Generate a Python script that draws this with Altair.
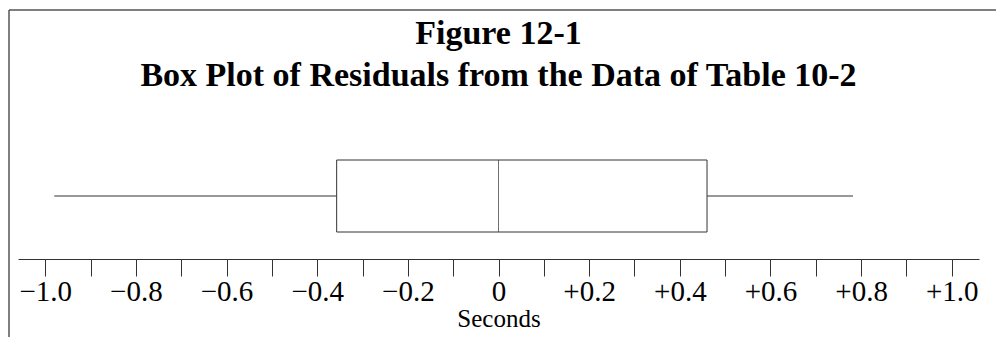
import altair as alt
import pandas as pd

# Box-plot summary (seconds)
stat_names = ["lo", "q1", "median", "q3", "hi"]
stat_values = [-0.98, -0.357, 0.0, 0.46, 0.782]

tick_values = [round(-1.0 + 0.1 * i, 1) for i in range(21)]
label_values = [-1.0, -0.8, -0.6, -0.4, -0.2, 0.0, 0.2, 0.4, 0.6, 0.8, 1.0]
label_texts = ["\u22121.0", "\u22120.8", "\u22120.6", "\u22120.4", "\u22120.2", "0",
               "+0.2", "+0.4", "+0.6", "+0.8", "+1.0"]

title_lines = ["Figure 12-1", "Box Plot of Residuals from the Data of Table 10-2"]
x_title = "Seconds"

row = {"g": "Residuals"}
row.update(dict(zip(stat_names, stat_values)))
df = pd.DataFrame([row])

expr = "''"
for v, t in zip(reversed(label_values), reversed(label_texts)):
    expr = f"round(datum.value*10)=={int(round(v*10))} ? '{t}' : ({expr})"

FONT = "Liberation Serif"
LINE = "#333333"

xscale = alt.Scale(domain=[-1.06, 1.06], nice=False, zero=False)
yband = alt.Y("g:N", axis=None, scale=alt.Scale(paddingInner=0, paddingOuter=0.375))

base = alt.Chart(df)

whisk_lo = base.mark_rule(color=LINE, strokeWidth=1).encode(
    x=alt.X("lo:Q", scale=xscale,
            axis=alt.Axis(values=tick_values, labelExpr=expr, title=x_title,
                          grid=False, domainColor=LINE, tickColor=LINE, tickSize=17,
                          domainWidth=1, tickWidth=1,
                          labelFont=FONT, labelFontSize=29, labelColor="black",
                          labelPadding=1, labelFlush=False, labelOverlap=False,
                          titleFont=FONT, titleFontSize=25, titleFontWeight="normal",
                          titleColor="black", titlePadding=0)),
    x2="q1:Q", y=yband)

whisk_hi = base.mark_rule(color=LINE, strokeWidth=1).encode(
    x=alt.X("q3:Q", scale=xscale), x2="hi:Q", y=yband)

box = base.mark_bar(fill="white", stroke=LINE, strokeWidth=1).encode(
    x=alt.X("q1:Q", scale=xscale), x2="q3:Q", y=yband)

med = base.mark_tick(color=LINE, thickness=1, size=72, orient="vertical").encode(
    x=alt.X("median:Q", scale=xscale), y=yband)

frame_df = pd.DataFrame({"a": [0]})
frame_left = alt.Chart(frame_df).mark_rule(color="#555555", strokeWidth=1.5).encode(
    x=alt.value(-9), y=alt.value(-123), y2=alt.value(210))
frame_top = alt.Chart(frame_df).mark_rule(color="#555555", strokeWidth=1.5).encode(
    x=alt.value(-9), x2=alt.value(990), y=alt.value(-123))

chart = alt.layer(frame_left, frame_top, whisk_lo, whisk_hi, box, med).properties(
    width=961, height=126,
    autosize=alt.AutoSizeParams(type="none"),
    padding={"left": 18, "top": 133, "right": 17, "bottom": 78},
    title=alt.TitleParams(title_lines, font=FONT, fontSize=34, fontWeight="bold",
                          color="black", lineHeight=42, anchor="middle", offset=-84,
                          frame="group"),
    background="white",
).configure_view(stroke=None)

chart.save("out.html", embed_options={"renderer": "svg", "actions": False})
